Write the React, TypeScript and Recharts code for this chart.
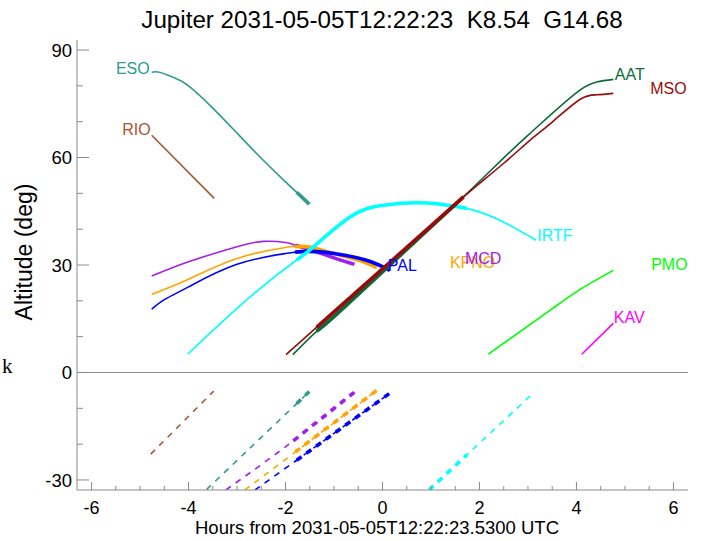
import {
  LineChart,
  Line,
  XAxis,
  YAxis,
  ReferenceLine,
  ReferenceDot,
} from "recharts";

type Pt = [number, number];

// hours from reference time, altitude (deg)
const esoAbove: Pt[] = [[-4.76, 83.8], [-4.6, 83.8], [-4.3, 82.3], [-4.0, 80.0], [-3.5, 73.8], [-3.0, 66.8], [-2.5, 59.8], [-2.0, 53.2], [-1.77, 50.3], [-1.51, 47.0]];
const esoBelow: Pt[] = [[-3.63, -32.7], [-2.6, -19.4], [-1.77, -8.7], [-1.51, -5.3]];
const rioAbove: Pt[] = [[-4.76, 66.2], [-3.47, 48.6]];
const rioBelow: Pt[] = [[-4.78, -22.8], [-3.48, -5.2]];
const mcdAbove: Pt[] = [[-4.76, 26.9], [-4.0, 30.9], [-3.0, 35.1], [-2.46, 36.6], [-2.0, 36.3], [-1.8, 35.5], [-1.5, 34.3], [-1.0, 32.0], [-0.58, 30.2]];
const mcdBelow: Pt[] = [[-3.23, -32.8], [-1.84, -19.1], [-0.58, -5.5]];
const kpnoAbove: Pt[] = [[-4.76, 21.8], [-4.0, 26.0], [-3.0, 31.8], [-2.0, 34.9], [-1.8, 35.1], [-1.5, 35.0], [-1.0, 33.2], [-0.5, 31.4], [-0.12, 29.3]];
const kpnoBelow: Pt[] = [[-2.84, -32.8], [-1.8, -22.2], [-0.11, -4.9]];
const palAbove: Pt[] = [[-4.76, 17.7], [-4.49, 20.4], [-4.0, 23.9], [-3.0, 30.2], [-2.0, 33.2], [-1.8, 33.6], [-1.5, 33.8], [-1.0, 33.2], [-0.33, 31.3], [0.15, 28.5]];
const palBelow: Pt[] = [[-2.63, -32.8], [-1.77, -24.5], [0.18, -5.5]];
const irtfAbove: Pt[] = [[-4.02, 5.1], [-2.73, 21.1], [-1.77, 31.4], [-1.43, 35.0], [-0.67, 43.4], [0.02, 46.7], [0.91, 47.3], [1.74, 45.8], [2.42, 42.5], [3.17, 36.9]];
const irtfBelow: Pt[] = [[0.96, -32.8], [1.74, -23.0], [3.08, -6.1]];
const aatAbove: Pt[] = [[-1.85, 5.0], [-1.36, 11.5], [-1.0, 15.6], [0, 28.1], [1.0, 40.6], [1.67, 49.0], [2.5, 59.9], [3.04, 66.7], [3.5, 72.3], [4.07, 78.8], [4.42, 81.1], [4.76, 81.8]];
const msoAbove: Pt[] = [[-1.99, 5.0], [-1.36, 12.6], [-1.0, 16.9], [0, 28.9], [1.0, 40.9], [1.67, 49.0], [2.5, 58.4], [3.04, 64.8], [3.5, 69.9], [4.07, 76.2], [4.42, 77.5], [4.76, 77.9]];
const pmoAbove: Pt[] = [[2.18, 5.1], [3.46, 17.4], [4.1, 23.4], [4.76, 28.5]];
const kavAbove: Pt[] = [[4.11, 5.1], [4.76, 13.7]];

const xTicks = [-6, -5.5, -5, -4.5, -4, -3.5, -3, -2.5, -2, -1.5, -1, -0.5, 0, 0.5, 1, 1.5, 2, 2.5, 3, 3.5, 4, 4.5, 5, 5.5, 6];
const xMajor = [-6, -4, -2, 0, 2, 4, 6];
const yTicks = [-30, -20, -10, 0, 10, 20, 30, 40, 50, 60, 70, 80, 90];
const yMajor = [-30, 0, 30, 60, 90];

const stations = [
  { name: "ESO", color: "#2f9a8e", above: esoAbove, below: esoBelow, thick: [-1.85, 1.75] },
  { name: "RIO", color: "#a9562f", above: rioAbove, below: rioBelow, thick: [-1.85, 1.75] },
  { name: "MCD", color: "#a020f0", above: mcdAbove, below: mcdBelow, thick: [-1.85, 1.75] },
  { name: "KPNO", color: "#ffa500", above: kpnoAbove, below: kpnoBelow, thick: [-1.85, 1.75] },
  { name: "PAL", color: "#0000ff", above: palAbove, below: palBelow, thick: [-1.85, 1.75] },
  { name: "IRTF", color: "#00ffff", above: irtfAbove, below: irtfBelow, thick: [-1.85, 1.75] },
  { name: "AAT", color: "#0b6b3a", above: aatAbove, below: [] as Pt[], thick: [-1.4, 1.7] },
  { name: "MSO", color: "#990a0a", above: msoAbove, below: [] as Pt[], thick: [-1.4, 1.7] },
  { name: "PMO", color: "#00ff00", above: pmoAbove, below: [] as Pt[], thick: [-1.85, 1.75] },
  { name: "KAV", color: "#ff00ff", above: kavAbove, below: [] as Pt[], thick: [-1.85, 1.75] },
];

// station name placement (hours, deg, side of the anchor)
const labels: [string, number, number, "left" | "right"][] = [
  ["ESO", -4.8, 84.9, "left"],
  ["RIO", -4.78, 67.9, "left"],
  ["AAT", 4.79, 83.3, "right"],
  ["MSO", 5.52, 79.3, "right"],
  ["IRTF", 3.19, 38.3, "right"],
  ["KPNO", 1.39, 30.8, "right"],
  ["MCD", 1.7, 31.9, "right"],
  ["PAL", 0.11, 29.9, "right"],
  ["PMO", 5.54, 30.2, "right"],
  ["KAV", 4.77, 15.4, "right"],
];

const FONT = "'Liberation Sans', Arial, sans-serif";
const AXIS = "#8a8a8a";

const rows = (pts: Pt[]) => pts.map(([h, alt]) => ({ h, alt }));
const within = (pts: Pt[], w: number[]) => pts.filter(([h]) => h >= w[0] && h <= w[1]);
const colorOf = (name: string) => stations.find((s) => s.name === name)!.color;

function makeTick(side: "bottom" | "top" | "left" | "right") {
  return (props: any) => {
    const { x, y, payload } = props;
    const v = payload.value;
    if (side === "bottom" || side === "top") {
      const major = xMajor.includes(v);
      const len = major ? 8 : 4;
      const dir = side === "bottom" ? -1 : 1;
      return (
        <g>
          <line x1={x} y1={y} x2={x} y2={y + dir * len} stroke={AXIS} strokeWidth={1} />
          {side === "bottom" && major && (
            <text x={x} y={y + 24} textAnchor="middle" fontSize={18} fontFamily={FONT} fill="#000">
              {v}
            </text>
          )}
        </g>
      );
    }
    const major = yMajor.includes(v);
    const len = major ? 12 : 6;
    const dir = side === "left" ? 1 : -1;
    return (
      <g>
        <line x1={x} y1={y} x2={x + dir * len} y2={y} stroke={AXIS} strokeWidth={1} />
        {side === "left" && major && (
          <text x={x - 5} y={y} dy="0.36em" textAnchor="end" fontSize={18.5} fontFamily={FONT} fill="#000">
            {v}
          </text>
        )}
      </g>
    );
  };
}

export default function App() {
  return (
    <div style={{ position: "absolute", left: 0, top: 0, background: "#fff" }}>
      <LineChart width={701} height={541} margin={{ top: 40, right: 13, bottom: 0, left: 27 }}>
        <XAxis
          type="number"
          dataKey="h"
          domain={[-6.3, 6.3]}
          ticks={xTicks}
          allowDataOverflow
          height={51}
          tickSize={0}
          tickMargin={0}
          tickLine={false}
          interval={0}
          stroke={AXIS}
          tick={makeTick("bottom")}
        />
        <XAxis
          xAxisId="top"
          orientation="top"
          type="number"
          domain={[-6.3, 6.3]}
          ticks={xTicks}
          allowDataOverflow
          height={0}
          tickSize={0}
          tickMargin={0}
          tickLine={false}
          interval={0}
          stroke={AXIS}
          tick={makeTick("top")}
        />
        <YAxis
          type="number"
          domain={[-32.8, 92.8]}
          ticks={yTicks}
          allowDataOverflow
          width={50}
          tickSize={0}
          tickMargin={0}
          tickLine={false}
          interval={0}
          stroke={AXIS}
          tick={makeTick("left")}
        />
        <YAxis
          yAxisId="right"
          orientation="right"
          type="number"
          domain={[-32.8, 92.8]}
          ticks={yTicks}
          allowDataOverflow
          width={0}
          tickSize={0}
          tickMargin={0}
          tickLine={false}
          interval={0}
          stroke={AXIS}
          tick={makeTick("right")}
        />
        <ReferenceLine y={0} stroke={AXIS} strokeWidth={1} />

        {stations.map((s) => (
          <Line
            key={s.name + "-up"}
            data={rows(s.above)}
            dataKey="alt"
            type="natural"
            stroke={s.color}
            strokeWidth={1.6}
            dot={false}
            activeDot={false}
            isAnimationActive={false}
          />
        ))}
        {stations
          .filter((s) => within(s.above, s.thick).length > 1)
          .map((s) => (
            <Line
              key={s.name + "-up-thick"}
              data={rows(within(s.above, s.thick))}
              dataKey="alt"
              type="natural"
              stroke={s.color}
              strokeWidth={3.6}
              dot={false}
              activeDot={false}
              isAnimationActive={false}
            />
          ))}
        {stations
          .filter((s) => s.below.length > 1)
          .map((s) => (
            <Line
              key={s.name + "-down"}
              data={rows(s.below)}
              dataKey="alt"
              type="natural"
              stroke={s.color}
              strokeWidth={1.6}
              strokeDasharray="6 6"
              dot={false}
              activeDot={false}
              isAnimationActive={false}
            />
          ))}
        {stations
          .filter((s) => within(s.below, s.thick).length > 1)
          .map((s) => (
            <Line
              key={s.name + "-down-thick"}
              data={rows(within(s.below, s.thick))}
              dataKey="alt"
              type="natural"
              stroke={s.color}
              strokeWidth={3.6}
              strokeDasharray="6 6"
              dot={false}
              activeDot={false}
              isAnimationActive={false}
            />
          ))}

        {labels.map(([name, h, alt, side]) => (
          <ReferenceDot
            key={"lbl-" + name}
            x={h}
            y={alt}
            r={0}
            fill="none"
            stroke="none"
            label={{
              value: name,
              position: side,
              offset: 0,
              fill: colorOf(name),
              fontSize: 16,
              fontFamily: FONT,
            }}
          />
        ))}

        <text x={382} y={28} textAnchor="middle" fontSize={24.2} fontFamily={FONT} fill="#000">
          {"Jupiter 2031-05-05T12:22:23\u00a0\u00a0K8.54\u00a0\u00a0G14.68"}
        </text>
        <text x={377} y={534} textAnchor="middle" fontSize={18.5} fontFamily={FONT} fill="#000">
          Hours from 2031-05-05T12:22:23.5300 UTC
        </text>
        <text
          x={0}
          y={0}
          transform="translate(32,252) rotate(-90)"
          textAnchor="middle"
          fontSize={23}
          fontFamily={FONT}
          fill="#000"
        >
          Altitude (deg)
        </text>
        <text x={2} y={373} fontSize={21} fontFamily="'Liberation Serif', serif" fill="#000">
          k
        </text>
      </LineChart>
    </div>
  );
}
